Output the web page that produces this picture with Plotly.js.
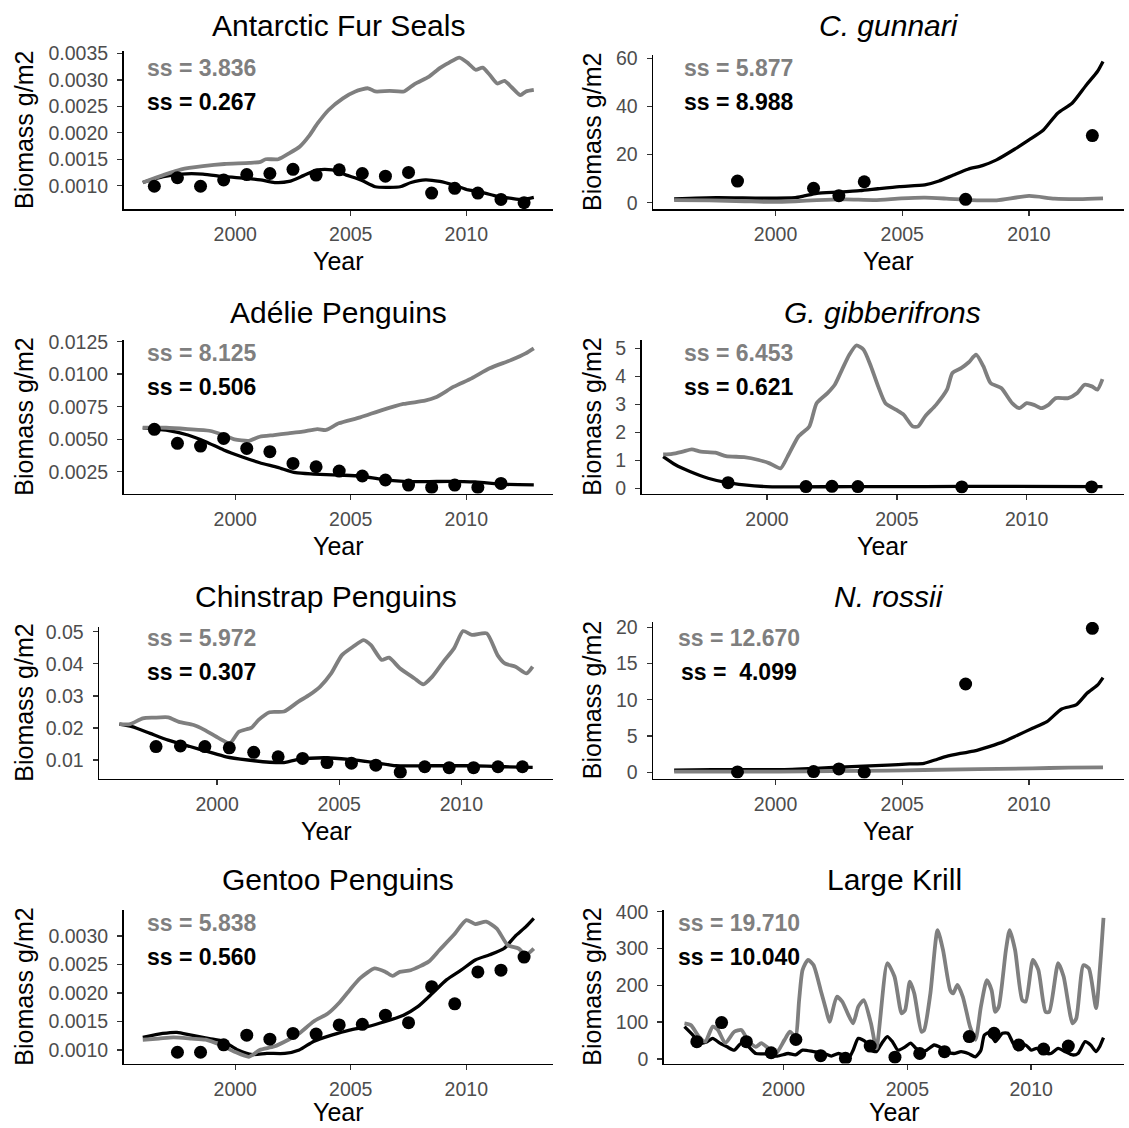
<!DOCTYPE html>
<html><head><meta charset="utf-8">
<script src="https://cdn.plot.ly/plotly-3.0.1.min.js"></script>
<style>html,body{margin:0;padding:0;background:#fff}#chart{width:1129px;height:1128px}</style>
</head><body><div id="chart"></div><script>
// ---------- DATA ----------
const titles = ['Antarctic Fur Seals','<i>C. gunnari</i>','Adélie Penguins','<i>G. gibberifrons</i>','Chinstrap Penguins','<i>N. rossii</i>','Gentoo Penguins','Large Krill'];
const ssGrey = ['ss = 3.836','ss = 5.877','ss = 8.125','ss = 6.453','ss = 5.972','ss = 12.670','ss = 5.838','ss = 19.710'];
const ssBlack = ['ss = 0.267','ss = 8.988','ss = 0.506','ss = 0.621','ss = 0.307','ss =\u00A0\u00A04.099','ss = 0.560','ss = 10.040'];
const xTicks = [2000, 2005, 2010];

// Antarctic Fur Seals
const furGreyX = [1996.0,1996.89,1997.67,1998.60,1999.53,2000.62,2001.09,2001.32,2001.86,2002.33,2002.80,2003.18,2003.57,2004.04,2004.66,2005.20,2005.75,2006.06,2006.68,2007.30,2007.76,2008.39,2008.85,2009.24,2009.70,2010.09,2010.40,2010.71,2011.02,2011.34,2011.65,2011.96,2012.34,2012.58,2012.92];
const furGrey = [0.00106,0.00120,0.00131,0.00137,0.00141,0.00143,0.00145,0.00150,0.00150,0.00161,0.00174,0.00193,0.00218,0.00243,0.00265,0.00278,0.00284,0.00278,0.00279,0.00278,0.00292,0.00306,0.00322,0.00332,0.00342,0.00331,0.00319,0.00323,0.00309,0.00293,0.00298,0.00286,0.00271,0.00278,0.00281];
const furBlackX = [1996.0,1996.89,1997.67,1998.60,1999.53,2000.47,2001.09,2001.71,2002.33,2002.95,2003.57,2004.19,2004.81,2005.43,2006.06,2006.68,2007.14,2007.61,2008.23,2008.85,2009.47,2010.09,2010.71,2011.34,2011.96,2012.42,2012.92];
const furBlack = [0.00106,0.00117,0.00122,0.00122,0.00117,0.00114,0.00111,0.00106,0.00108,0.00119,0.00130,0.00130,0.00120,0.00111,0.00098,0.00097,0.00098,0.00106,0.00111,0.00108,0.00101,0.00092,0.00087,0.00080,0.00076,0.00074,0.00078];
const furObsX = [1996.5,1997.5,1998.5,1999.5,2000.5,2001.5,2002.5,2003.5,2004.5,2005.5,2006.5,2007.5,2008.5,2009.5,2010.5,2011.5,2012.5];
const furObs = [0.00099,0.00115,0.00099,0.00111,0.00121,0.00123,0.00131,0.00120,0.00130,0.00123,0.00118,0.00125,0.00086,0.00095,0.00086,0.00074,0.00068];
const furTicks = [0.0010,0.0015,0.0020,0.0025,0.0030,0.0035];

// C. gunnari
const cgGreyX = [1996.0,1997.38,1998.79,1999.93,2000.78,2001.63,2002.77,2003.90,2004.96,2005.89,2006.74,2007.73,2008.72,2010.00,2011.00,2011.99,2012.92];
const cgGrey = [1.1,1.0,0.6,0.3,0.6,1.1,1.4,1.1,1.8,2.1,1.7,1.1,1.0,2.8,1.7,1.5,1.8];
const cgBlackX = [1996.0,1997.66,1999.50,2000.78,2001.13,2001.63,2002.48,2003.33,2004.04,2004.89,2005.89,2006.45,2007.02,2007.59,2008.16,2008.72,2009.43,2010.00,2010.57,2011.13,2011.70,2012.27,2012.70,2012.92];
const cgBlack = [1.6,2.1,1.9,2.1,2.8,3.9,4.4,5.0,5.8,6.7,7.4,9.0,11.5,13.9,15.4,17.8,22.2,26.1,30.2,37.2,41.3,49.0,54.5,58.7];
const cgObsX = [1998.5,2001.5,2002.5,2003.5,2007.5,2012.5];
const cgObs = [9.0,6.0,2.9,8.7,1.4,27.9];
const cgTicks = [0,20,40,60];

// Adelie Penguins
const adGreyX = [1996.0,1997.01,1997.95,1998.88,1999.50,1999.97,2000.59,2001.06,2001.68,2002.30,2002.92,2003.55,2003.93,2004.48,2005.41,2006.35,2007.28,2008.21,2008.68,2009.46,2010.23,2011.01,2011.94,2012.57,2012.92];
const adGrey = [0.00588,0.00588,0.00578,0.00565,0.00532,0.00499,0.00488,0.00519,0.00532,0.00545,0.00558,0.00578,0.00571,0.00622,0.00668,0.00724,0.00771,0.00796,0.00822,0.00904,0.00968,0.01045,0.01109,0.01160,0.01199];
const adBlackX = [1996.0,1997.01,1997.95,1998.72,1999.50,2000.28,2001.06,2001.84,2002.61,2003.39,2004.48,2005.41,2006.35,2007.28,2008.21,2009.30,2010.39,2011.63,2012.92];
const adBlack = [0.00588,0.00570,0.00532,0.00481,0.00417,0.00365,0.00319,0.00283,0.00242,0.00232,0.00224,0.00217,0.00191,0.00176,0.00173,0.00176,0.00171,0.00153,0.00148];
const adObsX = [1996.5,1997.5,1998.5,1999.5,2000.5,2001.5,2002.5,2003.5,2004.5,2005.5,2006.5,2007.5,2008.5,2009.5,2010.5,2011.5];
const adObs = [0.00576,0.00468,0.00447,0.00506,0.00429,0.00404,0.00314,0.00288,0.00255,0.00217,0.00186,0.00147,0.00129,0.00147,0.00129,0.00160];
const adTicks = [0.0025,0.0050,0.0075,0.0100,0.0125];

// G. gibberifrons
const ggGreyX = [1996.0,1996.35,1996.75,1997.1,1997.45,1998.01,1998.42,1999.12,1999.68,2000.10,2000.52,2000.79,2001.21,2001.63,2001.91,2002.33,2002.61,2002.89,2003.17,2003.44,2003.72,2004.0,2004.28,2004.56,2004.98,2005.26,2005.61,2005.82,2006.09,2006.51,2006.93,2007.14,2007.49,2007.77,2008.05,2008.33,2008.61,2009.02,2009.44,2009.72,2010.0,2010.28,2010.56,2010.84,2011.12,2011.60,2011.95,2012.23,2012.51,2012.72,2012.92];
const ggGrey = [1.21,1.23,1.31,1.39,1.31,1.27,1.15,1.11,1.01,0.89,0.71,1.13,1.85,2.21,3.04,3.40,3.70,4.24,4.77,5.10,4.95,4.36,3.64,3.04,2.80,2.63,2.21,2.21,2.57,2.98,3.52,4.12,4.30,4.50,4.77,4.36,3.76,3.58,3.04,2.86,3.04,2.98,2.86,2.98,3.22,3.22,3.40,3.70,3.64,3.52,3.90];
const ggBlackX = [1996.0,1996.47,1997.03,1997.73,1998.42,1999.12,1999.96,2001.07,2003.30,2006.09,2008.88,2012.92];
const ggBlack = [1.13,0.84,0.60,0.36,0.21,0.12,0.06,0.05,0.06,0.06,0.07,0.06];
const ggObsX = [1998.5,2001.5,2002.5,2003.5,2007.5,2012.5];
const ggObs = [0.20,0.06,0.07,0.06,0.05,0.05];
const ggTicks = [0,1,2,3,4,5];

// Chinstrap Penguins
const chGreyX = [1996.0,1996.44,1996.96,1997.41,1998.0,1998.44,1999.04,1999.48,2000.07,2000.52,2000.89,2001.41,2001.70,2002.15,2002.74,2003.33,2003.78,2004.22,2004.67,2005.11,2005.56,2006.0,2006.30,2006.74,2007.04,2007.48,2008.07,2008.44,2008.81,2009.26,2009.70,2010.07,2010.44,2011.04,2011.48,2011.78,2012.22,2012.67,2012.92];
const chGrey = [0.0212,0.0212,0.0230,0.0232,0.0233,0.0219,0.0209,0.0194,0.0168,0.0152,0.0188,0.0201,0.0225,0.0249,0.0251,0.0282,0.0303,0.0329,0.0370,0.0427,0.0453,0.0474,0.0458,0.0412,0.0419,0.0386,0.0355,0.0336,0.0360,0.0406,0.0448,0.0502,0.0490,0.0495,0.0427,0.0401,0.0391,0.0370,0.0391];
const chBlackX = [1996.0,1996.52,1997.26,1998.0,1998.89,1999.63,2000.37,2001.26,2002.15,2002.74,2003.33,2004.37,2005.41,2006.44,2007.33,2008.81,2010.30,2011.78,2012.92];
const chBlack = [0.0212,0.0204,0.0183,0.0162,0.0142,0.0126,0.0110,0.0100,0.0093,0.0092,0.0102,0.0107,0.0102,0.0092,0.0082,0.0082,0.0082,0.0079,0.0077];
const chObsX = [1997.5,1998.5,1999.5,2000.5,2001.5,2002.5,2003.5,2004.5,2005.5,2006.5,2007.5,2008.5,2009.5,2010.5,2011.5,2012.5];
const chObs = [0.0142,0.0144,0.0142,0.0138,0.0124,0.0110,0.0105,0.0092,0.0090,0.0084,0.0062,0.0079,0.0076,0.0076,0.0079,0.0079];
const chTicks = [0.01,0.02,0.03,0.04,0.05];

// N. rossii
const nrGreyX = [1996.0,2000.14,2004.43,2005.86,2010.14,2011.57,2012.92];
const nrGrey = [0.10,0.10,0.23,0.32,0.55,0.64,0.69];
const nrBlackX = [1996.0,1997.5,2000.14,2001.57,2003.0,2004.43,2005.29,2005.86,2006.29,2006.71,2007.29,2007.86,2008.43,2009.0,2009.57,2010.14,2010.71,2011.29,2011.86,2012.29,2012.71,2012.92];
const nrBlack = [0.30,0.37,0.37,0.55,0.78,1.00,1.15,1.24,1.70,2.16,2.60,2.94,3.54,4.23,5.15,6.07,6.99,8.74,9.29,10.90,12.05,13.06];
const nrObsX = [1998.5,2001.5,2002.5,2003.5,2007.5,2012.5];
const nrObs = [0.05,0.10,0.46,0.02,12.18,19.86];
const nrTicks = [0,5,10,15,20];

// Gentoo Penguins
const geGreyX = [1996.0,1996.70,1997.33,1998.10,1998.72,1999.35,1999.97,2000.59,2001.06,2001.68,2002.30,2002.77,2003.39,2004.01,2004.48,2004.95,2005.41,2006.03,2006.50,2006.81,2007.12,2007.59,2008.37,2008.83,2009.46,2010.0,2010.39,2010.86,2011.32,2011.79,2012.26,2012.57,2012.92];
const geGrey = [0.00118,0.00120,0.00122,0.00120,0.00118,0.00109,0.00097,0.00088,0.00100,0.00106,0.00118,0.00129,0.00150,0.00164,0.00182,0.00205,0.00226,0.00243,0.00237,0.00230,0.00237,0.00240,0.00255,0.00275,0.00302,0.00328,0.00321,0.00325,0.00313,0.00284,0.00278,0.00267,0.00278];
const geBlackX = [1996.0,1996.86,1997.48,1998.10,1998.88,1999.50,2000.12,2000.75,2001.37,2002.15,2002.77,2003.39,2004.17,2004.95,2005.72,2006.50,2007.28,2007.90,2008.52,2009.14,2009.77,2010.39,2011.01,2011.63,2012.10,2012.57,2012.92];
const geBlack = [0.00122,0.00129,0.00131,0.00126,0.00120,0.00115,0.00100,0.00092,0.00094,0.00094,0.00100,0.00115,0.00126,0.00135,0.00141,0.00150,0.00161,0.00176,0.00199,0.00223,0.00240,0.00258,0.00267,0.00278,0.00299,0.00316,0.00331];
const geObsX = [1997.5,1998.5,1999.5,2000.5,2001.5,2002.5,2003.5,2004.5,2005.5,2006.5,2007.5,2008.5,2009.5,2010.5,2011.5,2012.5];
const geObs = [0.00096,0.00096,0.00109,0.00126,0.00119,0.00129,0.00128,0.00144,0.00145,0.00161,0.00148,0.00211,0.00181,0.00237,0.00240,0.00263];
const geTicks = [0.0010,0.0015,0.0020,0.0025,0.0030];

// Large Krill
const lkGreyX = [1996.0,1996.26,1996.58,1996.84,1997.14,1997.35,1997.65,1998.01,1998.30,1998.59,1998.88,1999.10,1999.32,1999.68,2000.04,2000.26,2000.48,2000.63,2000.77,2000.99,2001.21,2001.50,2001.72,2001.86,2002.15,2002.37,2002.59,2002.81,2003.02,2003.24,2003.53,2003.75,2004.19,2004.48,2004.77,2004.91,2005.10,2005.28,2005.57,2005.68,2005.93,2006.22,2006.44,2006.73,2006.85,2007.02,2007.24,2007.53,2007.75,2007.97,2008.21,2008.40,2008.55,2008.69,2008.98,2009.13,2009.35,2009.64,2009.78,2010.07,2010.29,2010.58,2010.73,2011.09,2011.31,2011.67,2011.82,2012.11,2012.33,2012.62,2012.78,2012.92];
const lkGrey = [97,92,61,47,88,79,43,74,79,47,33,43,33,14,52,74,61,160,242,269,255,187,133,101,169,156,124,97,142,160,97,29,260,224,124,133,210,178,74,79,178,350,296,187,178,201,169,88,52,142,214,187,128,142,296,350,296,160,156,269,242,128,128,260,224,97,110,255,246,138,250,383];
const lkBlackX = [1996.0,1996.34,1996.63,1996.92,1997.14,1997.43,1997.72,1998.01,1998.30,1998.59,1998.88,1999.32,1999.75,2000.19,2000.48,2000.77,2001.21,2001.64,2001.93,2002.22,2002.66,2002.81,2003.02,2003.31,2003.53,2003.75,2003.97,2004.19,2004.40,2004.62,2004.91,2005.13,2005.35,2005.57,2005.78,2006.08,2006.29,2006.58,2006.88,2007.17,2007.46,2007.75,2007.97,2008.11,2008.33,2008.55,2008.84,2009.06,2009.27,2009.49,2009.78,2010.0,2010.22,2010.51,2010.80,2011.09,2011.38,2011.67,2011.89,2012.18,2012.40,2012.62,2012.76,2012.92];
const lkBlack = [88,65,43,47,56,43,33,24,43,33,15,14,8,15,11,24,20,15,8,15,6,24,56,47,24,20,43,61,47,24,33,43,29,20,24,38,33,20,15,20,15,6,24,65,72,47,70,70,43,29,38,24,29,17,15,29,20,11,15,47,38,20,33,58];
const lkObsX = [1996.5,1997.5,1998.5,1999.5,2000.5,2001.5,2002.5,2003.5,2004.5,2005.5,2006.5,2007.5,2008.5,2009.5,2010.5,2011.5];
const lkObs = [47,99,47,17,53,9,2,35,5,15,20,61,70,38,27,35];
const lkTicks = [0,100,200,300,400];

// ---------- LAYOUT (pixel geometry) ----------
const W = 1129, H = 1128;
const FONT = '"Liberation Sans", Arial, sans-serif';
const GREY = '#7f7f7f';
const px = v => v / W, py = v => 1 - v / H;

const series = [
  [furGreyX, furGrey, furBlackX, furBlack, furObsX, furObs, furTicks, 4],
  [cgGreyX, cgGrey, cgBlackX, cgBlack, cgObsX, cgObs, cgTicks, 0],
  [adGreyX, adGrey, adBlackX, adBlack, adObsX, adObs, adTicks, 4],
  [ggGreyX, ggGrey, ggBlackX, ggBlack, ggObsX, ggObs, ggTicks, 0],
  [chGreyX, chGrey, chBlackX, chBlack, chObsX, chObs, chTicks, 2],
  [nrGreyX, nrGrey, nrBlackX, nrBlack, nrObsX, nrObs, nrTicks, 0],
  [geGreyX, geGrey, geBlackX, geBlack, geObsX, geObs, geTicks, 4],
  [lkGreyX, lkGrey, lkBlackX, lkBlack, lkObsX, lkObs, lkTicks, 0]
];
const geom = [
  {L:123.6, R:553.2, T:51,  B:209,    yr:[0.00056, 0.003544]},
  {L:653.1, R:1124.3,T:55,  B:209,    yr:[-2.62, 61.37]},
  {L:123.6, R:553.2, T:340, B:493.5,  yr:[0.000823, 0.01263]},
  {L:641.6, R:1124.3,T:340, B:493.5,  yr:[-0.186, 5.296]},
  {L:99.1,  R:553.2, T:627, B:778.5,  yr:[0.00423, 0.05147]},
  {L:653.1, R:1124.3,T:622, B:778.5,  yr:[-0.855, 20.73]},
  {L:123.6, R:553.2, T:910, B:1063.5, yr:[0.000763, 0.003456]},
  {L:663.9, R:1124.3,T:910, B:1063.5, yr:[-12.2, 404.6]}
];
const titleY = [25, 25, 312, 312, 596, 596, 879, 879];
const ssGreyY = [68.3, 68.3, 353.3, 353.3, 638.3, 638.3, 923.3, 923.3];
const ssBlackY = [101.7, 101.7, 387.3, 387.3, 672.3, 672.3, 957.3, 957.3];
const yearY = [261, 261, 546, 546, 831, 831, 1112, 1112];
const ssX = [201.6, 738.5];
const yTitleX = [24, 592];

const traces = [];
const layout = {
  width: W, height: H, margin: {l:0, r:0, t:0, b:0},
  paper_bgcolor: '#fff', plot_bgcolor: '#fff', showlegend: false,
  font: {family: FONT, color: '#000'},
  annotations: []
};

series.forEach((s, i) => {
  const g = geom[i];
  const n = i === 0 ? '' : String(i + 1);
  const xa = 'x' + n, ya = 'y' + n;
  traces.push({x: s[2], y: s[3], xaxis: xa, yaxis: ya, mode: 'lines', type: 'scatter',
    line: {color: '#000', width: 3.3, shape: 'spline', smoothing: 0.6}, hoverinfo: 'skip'});
  traces.push({x: s[0], y: s[1], xaxis: xa, yaxis: ya, mode: 'lines', type: 'scatter',
    line: {color: GREY, width: 3.8, shape: 'spline', smoothing: 0.6}, hoverinfo: 'skip'});
  traces.push({x: s[4], y: s[5], xaxis: xa, yaxis: ya, mode: 'markers', type: 'scatter',
    marker: {color: '#000', size: 13}, hoverinfo: 'skip'});

  const axCommon = {showgrid: false, zeroline: false, showline: true, linecolor: '#000', linewidth: 1.6,
    ticks: 'outside', ticklen: 5, tickwidth: 1.4, tickcolor: '#333',
    tickfont: {family: FONT, size: 19.5, color: '#4d4d4d'}, fixedrange: true};
  layout['xaxis' + n] = Object.assign({}, axCommon, {
    domain: [px(g.L), px(g.R)], range: [1995.17, 2013.76], anchor: ya,
    tickmode: 'array', tickvals: xTicks, ticktext: xTicks.map(String), ticklabelstandoff: 2});
  layout['yaxis' + n] = Object.assign({}, axCommon, {
    domain: [py(g.B), py(g.T)], range: g.yr, anchor: xa,
    tickmode: 'array', tickvals: s[6], ticktext: s[6].map(v => v.toFixed(s[7])), ticklabelstandoff: 5});

  const col = i % 2;
  const cx = (g.L + g.R) / 2;
  layout.annotations.push(
    {text: titles[i], x: px(cx), y: py(titleY[i]), xref: 'paper', yref: 'paper', xanchor: 'center', yanchor: 'middle',
     showarrow: false, font: {family: FONT, size: 30, color: '#000'}},
    {text: '<b>' + ssGrey[i] + '</b>', x: px(ssX[col]), y: py(ssGreyY[i]), xref: 'paper', yref: 'paper', xanchor: 'center', yanchor: 'middle',
     showarrow: false, font: {family: FONT, size: 23, color: GREY}},
    {text: '<b>' + ssBlack[i] + '</b>', x: px(ssX[col]), y: py(ssBlackY[i]), xref: 'paper', yref: 'paper', xanchor: 'center', yanchor: 'middle',
     showarrow: false, font: {family: FONT, size: 23, color: '#000'}},
    {text: 'Year', x: px(cx), y: py(yearY[i]), xref: 'paper', yref: 'paper', xanchor: 'center', yanchor: 'middle',
     showarrow: false, font: {family: FONT, size: 25, color: '#000'}},
    {text: 'Biomass g/m2', x: px(yTitleX[col]), y: py((g.T + g.B) / 2), xref: 'paper', yref: 'paper', xanchor: 'center', yanchor: 'middle',
     textangle: -90, showarrow: false, font: {family: FONT, size: 25, color: '#000'}}
  );
});

Plotly.newPlot('chart', traces, layout, {staticPlot: true, displayModeBar: false});
</script></body></html>
